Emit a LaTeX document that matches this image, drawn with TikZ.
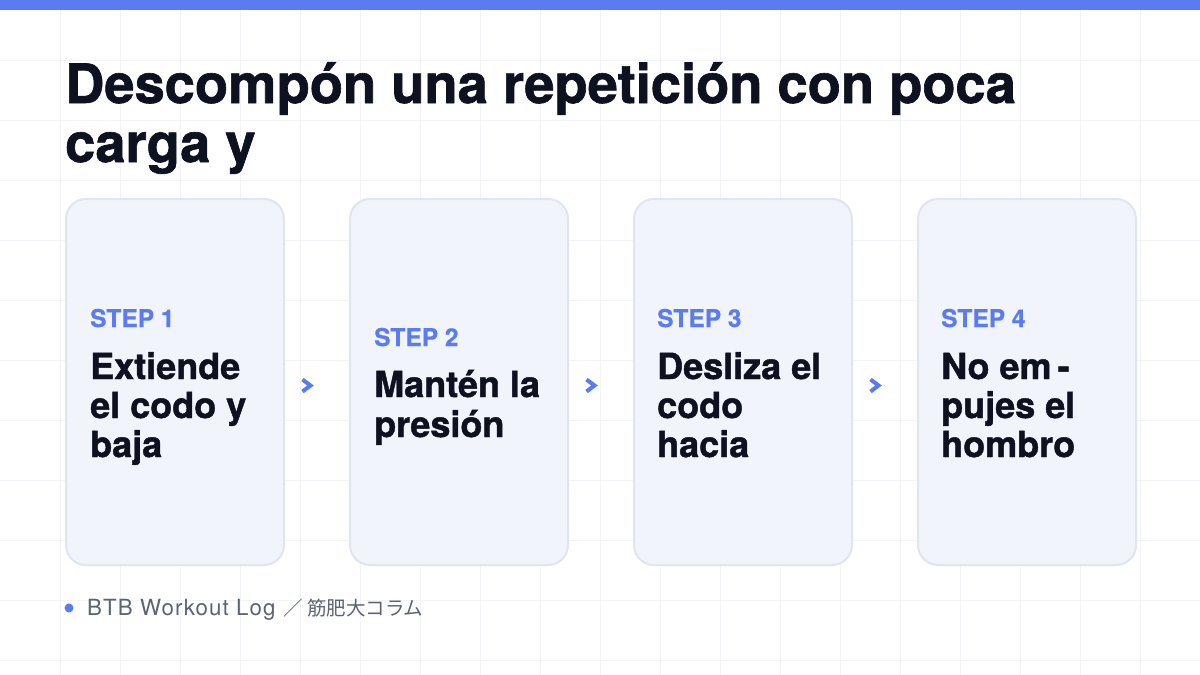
\documentclass[tikz,border=0pt]{standalone}
\usepackage{fontspec}
\setmainfont{TeX Gyre Heros}
\newfontfamily\heavyfont[FakeBold=1.2]{TeX Gyre Heros Bold}
\newfontfamily\midheavy[FakeBold=0.6]{TeX Gyre Heros Bold}
\newfontfamily\footfont[LetterSpace=5]{TeX Gyre Heros}
\newfontfamily\cjkjp{Noto Sans CJK JP}
\definecolor{accent}{HTML}{5B7BF3}
\definecolor{ink}{HTML}{0E1120}
\definecolor{cardfill}{HTML}{F2F4FB}
\definecolor{cardline}{HTML}{E1E5F0}
\definecolor{gridc}{HTML}{F3F4F7}
\definecolor{footc}{HTML}{5D6375}
\tikzset{
  gridline/.style={draw=gridc, line width=1pt},
  card/.style={draw=cardline, fill=cardfill, line width=2pt, rounded corners=20pt,
    minimum width=218pt, minimum height=366pt, inner sep=0pt},
  steplbl/.style={anchor=base west, inner sep=0pt, text=accent,
    font=\midheavy\fontsize{24.5}{28}\selectfont},
  bodyline/.style={anchor=base west, inner sep=0pt, text=ink,
    font=\heavyfont\fontsize{36}{39}\selectfont},
  titleline/.style={anchor=base west, inner sep=0pt, text=ink,
    font=\heavyfont\fontsize{54.3}{59}\selectfont},
  chev/.style={draw=accent, line width=4pt, miter limit=10},
  foottext/.style={anchor=base west, inner sep=0pt, text=footc}
}
\begin{document}
\begin{tikzpicture}[x=1pt,y=-1pt]
\useasboundingbox (0,0) rectangle (1200,675);
\fill[white] (0,0) rectangle (1200,675);
\foreach \x in {60,120,...,1140} \draw[gridline] (\x,0) -- (\x,675);
\foreach \y in {60,120,...,660} \draw[gridline] (0,\y) -- (1200,\y);
\fill[accent] (0,0) rectangle (1200,10);

% title
\node[titleline] (t1) at (65,103) {Descompón una repetición con poca};
\node[titleline] (t2) at (65,162) {carga y};

% cards
\node[card] (c1) at (175,382) {};
\node[card] (c2) at (459,382) {};
\node[card] (c3) at (743,382) {};
\node[card] (c4) at (1027,382) {};

% card 1
\node[steplbl] (s1) at (90,327) {STEP 1};
\node[bodyline] (s1a) at (90,379) {Extiende};
\node[bodyline] (s1b) at (90,418) {el codo y};
\node[bodyline] (s1c) at (90,457) {baja};
% card 2
\node[steplbl] (s2) at (374,346) {STEP 2};
\node[bodyline] (s2a) at (374,397) {Mantén la};
\node[bodyline] (s2b) at (374,437) {presión};
% card 3
\node[steplbl] (s3) at (657,327) {STEP 3};
\node[bodyline] (s3a) at (657,379) {Desliza el};
\node[bodyline] (s3b) at (657,418) {codo};
\node[bodyline] (s3c) at (657,457) {hacia};
% card 4
\node[steplbl] (s4) at (941,327) {STEP 4};
\node[bodyline] (s4a) at (941,379) {No em\,-};
\node[bodyline] (s4b) at (941,418) {pujes el};
\node[bodyline] (s4c) at (941,457) {hombro};

% chevrons
\foreach \cx in {302.5,586.5,870.5}
  \draw[chev] (\cx,379.5) -- (\cx+8,385.5) -- (\cx,391.5);

% footer
\fill[accent] (69,608) circle (4.5);
\node[foottext] (foot) at (87,615) {\footfont\fontsize{22.3}{24}\selectfont BTB Workout Log\hspace{8pt}{\cjkjp\fontsize{19.5}{24}\selectfont ／\hspace{4pt}筋肥大コラム}};
\end{tikzpicture}
\end{document}
